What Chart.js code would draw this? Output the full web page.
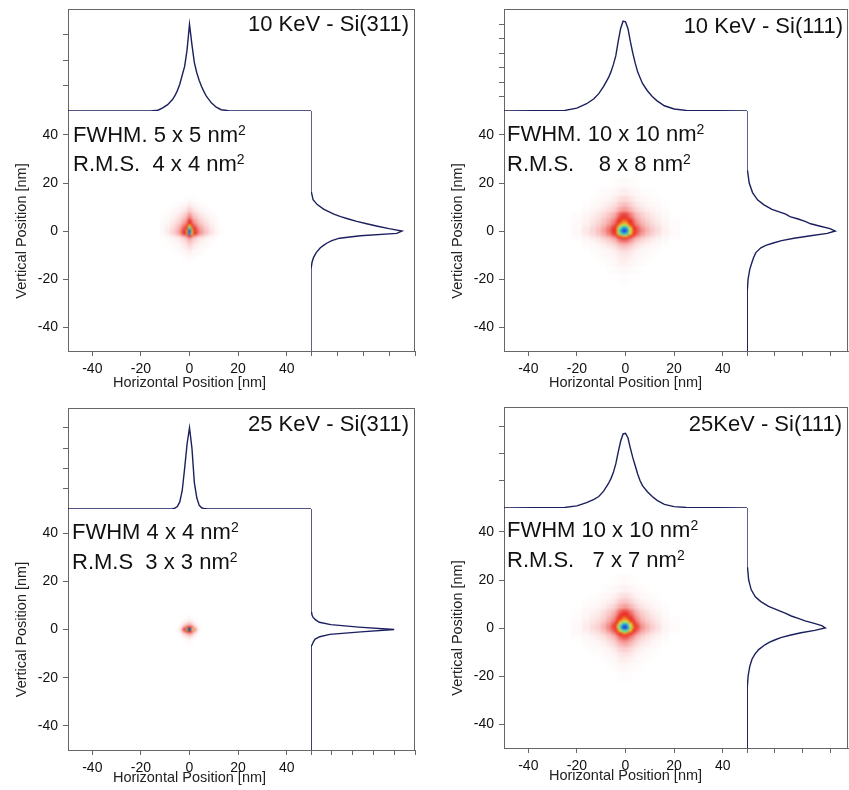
<!DOCTYPE html>
<html>
<head>
<meta charset="utf-8">
<script src="https://cdn.jsdelivr.net/npm/chart.js@4.4.1/dist/chart.umd.min.js"></script>
<style>
  html, body { margin: 0; padding: 0; background: #fff; overflow: hidden; }
  #page { position: relative; width: 849px; height: 790px; overflow: hidden;
          font-family: 'Liberation Sans', Arial, Helvetica, sans-serif; color: #111; }
  #page canvas { position: absolute; }
  .lbl { position: absolute; font-size: 22px; line-height: 22px; white-space: pre; }
  .lbl sup { font-size: 14px; position: relative; top: -7px; vertical-align: baseline; line-height: 0; }
</style>
</head>
<body>
<div id="page"></div>
<script>
// sample positions (nm) used for both the horizontal and the vertical profiles
const positions = [-50, -25, -20, -16, -13, -11, -9, -7, -6, -5, -4, -3, -2, -1, 0, 1, 2, 3, 4, 5, 6, 7, 9, 11, 13, 16, 20, 25, 50];
const posTicks = [-40, -20, 0, 20, 40];

// intensity profiles (arbitrary units): h = top (horizontal), v = right (vertical)
const hProfile10keV311 = [0, 0, 0, 0, 0.03, 0.12, 0.25, 0.45, 0.6, 0.8, 1.05, 1.4, 1.75, 2.4, 3.4, 2.6, 1.9, 1.5, 1.2, 0.95, 0.75, 0.57, 0.32, 0.15, 0.05, 0.01, 0, 0, 0];
const vProfile10keV311 = [0, 0, 0, 0, 0.02, 0.05, 0.1, 0.18, 0.24, 0.31, 0.4, 0.55, 0.95, 1.65, 1.75, 1.5, 1.28, 1.07, 0.88, 0.72, 0.57, 0.44, 0.25, 0.12, 0.04, 0.01, 0, 0, 0];
const hProfile10keV111 = [0, 0.02, 0.1, 0.25, 0.42, 0.6, 0.85, 1.15, 1.35, 1.6, 1.9, 2.4, 2.85, 3.1, 3.08, 2.85, 2.4, 2.0, 1.65, 1.35, 1.15, 0.95, 0.7, 0.5, 0.35, 0.18, 0.07, 0.02, 0];
const vProfile10keV111 = [0, 0.01, 0.04, 0.1, 0.18, 0.24, 0.32, 0.5, 0.68, 0.95, 1.25, 1.7, 2.3, 2.9, 3.19, 3.0, 2.65, 2.3, 2.1, 1.85, 1.55, 1.4, 0.9, 0.6, 0.38, 0.2, 0.08, 0.02, 0];
const hProfile25keV311 = [0, 0, 0, 0, 0, 0, 0, 0.01, 0.04, 0.12, 0.35, 0.9, 2.0, 3.2, 4.0, 3.0, 1.3, 0.55, 0.18, 0.06, 0.02, 0.01, 0, 0, 0, 0, 0, 0, 0];
const vProfile25keV311 = [0, 0, 0, 0, 0, 0, 0.01, 0.04, 0.07, 0.12, 0.2, 0.42, 0.9, 2.4, 4.0, 2.3, 0.95, 0.4, 0.22, 0.1, 0.05, 0.03, 0.01, 0, 0, 0, 0, 0, 0];
const hProfile25keV111 = [0, 0.02, 0.08, 0.2, 0.32, 0.42, 0.62, 0.9, 1.08, 1.3, 1.62, 2.05, 2.45, 2.72, 2.74, 2.58, 2.2, 1.85, 1.55, 1.25, 1.0, 0.82, 0.6, 0.42, 0.28, 0.13, 0.05, 0.02, 0];
const vProfile25keV111 = [0, 0.01, 0.04, 0.1, 0.18, 0.28, 0.42, 0.65, 0.8, 1.0, 1.22, 1.55, 1.95, 2.45, 2.83, 2.7, 2.4, 2.1, 1.85, 1.6, 1.42, 1.2, 0.78, 0.5, 0.3, 0.15, 0.06, 0.02, 0];

const titles = ['10 KeV - Si(311)', '10 KeV - Si(111)', '25 KeV - Si(311)', '25KeV - Si(111)'];
const fwhmLabels = ['FWHM. 5 x 5 nm', 'FWHM. 10 x 10 nm', 'FWHM 4 x 4 nm', 'FWHM 10 x 10 nm'];
const rmsLabels = ['R.M.S.  4 x 4 nm', 'R.M.S.    8 x 8 nm', 'R.M.S  3 x 3 nm', 'R.M.S.   7 x 7 nm'];

// profile axis ranges and tick values (intensity, no labels)
const topAxisMax = [4.0, 3.52, 4.97, 3.71];
const topAxisTicks = [[1, 2, 3], [0.5, 1, 1.5, 2, 2.5, 3], [1, 2, 3, 4], [1, 2, 3]];
const rightAxisMax = [2.0, 3.65, 5.0, 3.65];
const rightAxisTicks = [[0, 0.5, 1, 1.5, 2], [0, 1, 2, 3], [0, 1, 2, 3, 4, 5], [0, 1, 2, 3]];

const profiles = [
  [hProfile10keV311, vProfile10keV311],
  [hProfile10keV111, vProfile10keV111],
  [hProfile25keV311, vProfile25keV311],
  [hProfile25keV111, vProfile25keV111]
];

// page layout of each panel (px)
const panels = [
  { L: 68, R: 311, T: 9, B0: 111, B: 351, RF: 415, titleRight: 409, titleTop: 13, textLeft: 73, fwhmTop: 124, rmsTop: 153, xTitleGap: 32 },
  { L: 504, R: 747, T: 9, B0: 111, B: 351, RF: 848, titleRight: 843, titleTop: 15, textLeft: 507, fwhmTop: 123, rmsTop: 153, xTitleGap: 32 },
  { L: 68, R: 311, T: 408, B0: 509, B: 750, RF: 415, titleRight: 409, titleTop: 413, textLeft: 72, fwhmTop: 521, rmsTop: 551, xTitleGap: 28 },
  { L: 504, R: 747, T: 407, B0: 508, B: 748, RF: 848, titleRight: 842, titleTop: 413, textLeft: 507, fwhmTop: 519, rmsTop: 549, xTitleGap: 28 }
];

const AXIS = '#666';
const LINE = '#1b1f5e';
// image colour table: white -> pink -> red -> yellow -> cyan -> blue
const colourStops = [
  [0, [255, 255, 255]], [0.04, [254, 246, 246]], [0.12, [251, 218, 218]], [0.25, [246, 172, 170]],
  [0.38, [240, 112, 106]], [0.5, [232, 45, 40]], [0.62, [238, 72, 30]], [0.7, [250, 200, 40]],
  [0.76, [225, 240, 60]], [0.82, [110, 230, 120]], [0.88, [50, 215, 230]], [0.94, [40, 130, 240]],
  [1, [20, 40, 190]]
];

function colourAt(t) {
  t = Math.max(0, Math.min(1, t));
  for (let k = 1; k < colourStops.length; k++) {
    const [t1, c1] = colourStops[k];
    if (t <= t1) {
      const [t0, c0] = colourStops[k - 1];
      const f = (t - t0) / (t1 - t0);
      const c = c0.map((v, i) => Math.round(v + (c1[i] - v) * f));
      return `rgb(${c[0]},${c[1]},${c[2]})`;
    }
  }
  return 'rgb(20,40,190)';
}

Chart.defaults.font.family = "'Liberation Sans', Arial, Helvetica, sans-serif";
Chart.defaults.color = '#111';
Chart.defaults.animation = false;
Chart.defaults.plugins.legend.display = false;
Chart.defaults.plugins.tooltip.enabled = false;

// thin frame lines on the chart area edges
const framePlugin = {
  id: 'frame',
  afterDraw(chart, args, opts) {
    if (!opts.top && !opts.right) return;
    const { ctx, chartArea: a } = chart;
    ctx.save();
    ctx.strokeStyle = AXIS;
    ctx.lineWidth = 1;
    ctx.beginPath();
    if (opts.top) {
      const y = Math.round(a.top) + 0.5;
      ctx.moveTo(a.left, y);
      ctx.lineTo(a.right, y);
    }
    if (opts.right) {
      const x = Math.round(a.right) - 0.5;
      ctx.moveTo(x, a.top);
      ctx.lineTo(x, a.bottom);
    }
    ctx.stroke();
    ctx.restore();
  }
};

// 2D spot image, cells drawn through the x/y scales
const heatmapPlugin = {
  id: 'heatmap',
  beforeDatasetsDraw(chart, args, opts) {
    if (!opts.enabled) return;
    const { ctx, chartArea: a, scales: { x, y } } = chart;
    const off = document.createElement('canvas');
    off.width = chart.width;
    off.height = chart.height;
    const o = off.getContext('2d');
    chart.data.datasets[0].data.forEach(c => {
      if (c.v < 0.01) return;
      const px0 = Math.round(x.getPixelForValue(c.x0)), px1 = Math.round(x.getPixelForValue(c.x1));
      const py0 = Math.round(y.getPixelForValue(c.y1)), py1 = Math.round(y.getPixelForValue(c.y0));
      o.fillStyle = colourAt(c.v);
      o.fillRect(px0, py0, px1 - px0, py1 - py0);
    });
    ctx.save();
    ctx.beginPath();
    ctx.rect(a.left, a.top, a.width, a.height);
    ctx.clip();
    ctx.filter = 'blur(1.3px)';
    ctx.drawImage(off, 0, 0);
    ctx.restore();
  }
};

Chart.register(framePlugin, heatmapPlugin);

const page = document.getElementById('page');

function addCanvas(left, top, width, height) {
  const c = document.createElement('canvas');
  c.width = width;
  c.height = height;
  c.style.left = left + 'px';
  c.style.top = top + 'px';
  c.style.width = width + 'px';
  c.style.height = height + 'px';
  page.appendChild(c);
  return c;
}

function addLabel(html, style) {
  const d = document.createElement('div');
  d.className = 'lbl';
  d.innerHTML = html;
  Object.assign(d.style, style);
  page.appendChild(d);
}

function fixAxis(size) {
  return s => {
    if (s.isHorizontal()) s.height = size; else s.width = size;
    s.paddingLeft = s.paddingRight = s.paddingTop = s.paddingBottom = 0;
  };
}
function setTicks(values) {
  return s => { s.ticks = values.map(v => ({ value: v })); };
}

function buildCells(h, v) {
  const hMax = Math.max(...h), vMax = Math.max(...v);
  const n = positions.length;
  const lo = k => k === 0 ? positions[0] : (positions[k - 1] + positions[k]) / 2;
  const hi = k => k === n - 1 ? positions[k] : (positions[k] + positions[k + 1]) / 2;
  const cells = [];
  positions.forEach((py, i) => positions.forEach((px, j) => {
    cells.push({ x: px, y: py, v: (h[j] / hMax) * (v[i] / vMax), x0: lo(j), x1: hi(j), y0: lo(i), y1: hi(i) });
  }));
  return cells;
}

const tickGrid = { drawOnChartArea: false, drawTicks: true, tickLength: 5, color: AXIS };

panels.forEach((p, k) => {
  const [h, v] = profiles[k];

  // main image with position axes
  const yAxisW = 68, xAxisH = 44, pad = 2;
  const mc = addCanvas(p.L - yAxisW, p.B0 - pad, yAxisW + (p.R - p.L) + pad, pad + (p.B - p.B0) + xAxisH);
  new Chart(mc, {
    type: 'scatter',
    data: { datasets: [{ data: buildCells(h, v), pointRadius: 0, showLine: false }] },
    options: {
      responsive: false,
      layout: { padding: { top: pad, right: pad, left: 0, bottom: 0 } },
      plugins: { heatmap: { enabled: true } },
      scales: {
        x: {
          type: 'linear', min: -50, max: 50,
          afterBuildTicks: setTicks(posTicks), afterFit: fixAxis(xAxisH),
          grid: tickGrid, border: { color: AXIS },
          ticks: { font: { size: 14 }, padding: 5, color: '#111', maxRotation: 0, autoSkip: false },
          title: { display: true, text: 'Horizontal Position [nm]', color: '#222', font: { size: 14.5 },
                   padding: { top: 0, bottom: xAxisH - p.xTitleGap - 8.7 } }
        },
        y: {
          type: 'linear', min: -50, max: 50,
          afterBuildTicks: setTicks(posTicks), afterFit: fixAxis(yAxisW),
          grid: tickGrid, border: { color: AXIS },
          ticks: { font: { size: 14 }, padding: 5, color: '#111', autoSkip: false },
          title: { display: true, text: 'Vertical Position [nm]', color: '#222', font: { size: 14.5 },
                   padding: { top: 13.3, bottom: 0 } }
        }
      }
    }
  });

  // top (horizontal) profile
  const tAxisW = 10;
  const tc = addCanvas(p.L - tAxisW, p.T - pad, tAxisW + (p.R - p.L) + pad, pad + (p.B0 - p.T) + pad);
  new Chart(tc, {
    type: 'scatter',
    data: { datasets: [{ data: positions.map((x, i) => ({ x, y: h[i] })), showLine: true,
                         borderColor: LINE, borderWidth: 1.4, pointRadius: 0 }] },
    options: {
      responsive: false,
      layout: { padding: { top: pad, right: pad, bottom: pad, left: 0 } },
      plugins: { frame: { top: true } },
      scales: {
        x: { type: 'linear', min: -50, max: 50, display: false },
        y: {
          type: 'linear', min: 0, max: topAxisMax[k],
          afterBuildTicks: setTicks(topAxisTicks[k]), afterFit: fixAxis(tAxisW),
          grid: tickGrid, border: { color: AXIS }, ticks: { display: false }
        }
      }
    }
  });

  // right (vertical) profile
  const rAxisH = 8;
  const rc = addCanvas(p.R - pad, p.T - pad, pad + (p.RF - p.R) + pad, pad + (p.B - p.T) + rAxisH);
  new Chart(rc, {
    type: 'scatter',
    data: { datasets: [{ data: positions.map((y, i) => ({ x: v[i], y })), showLine: true,
                         borderColor: LINE, borderWidth: 1.4, pointRadius: 0 }] },
    options: {
      responsive: false,
      layout: { padding: { top: pad, right: pad, left: pad, bottom: 0 } },
      plugins: { frame: { top: true, right: true } },
      scales: {
        x: {
          type: 'linear', min: 0, max: rightAxisMax[k],
          afterBuildTicks: setTicks(rightAxisTicks[k]), afterFit: fixAxis(rAxisH),
          grid: tickGrid, border: { color: AXIS }, ticks: { display: false }
        },
        y: { type: 'linear', min: -50, max: -50 + 100 * (p.B - p.T) / (p.B - p.B0), display: false }
      }
    }
  });

  // texts
  addLabel(titles[k], { right: (849 - p.titleRight) + 'px', top: p.titleTop + 'px' });
  addLabel(fwhmLabels[k] + '<sup>2</sup>', { left: p.textLeft + 'px', top: p.fwhmTop + 'px' });
  addLabel(rmsLabels[k] + '<sup>2</sup>', { left: p.textLeft + 'px', top: p.rmsTop + 'px' });
});
</script>
</body>
</html>
